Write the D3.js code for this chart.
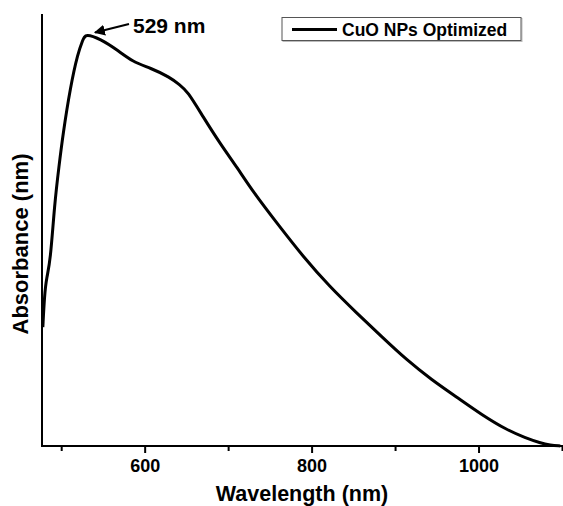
<!DOCTYPE html>
<html>
<head>
<meta charset="utf-8">
<script src="https://cdn.jsdelivr.net/npm/d3@7"></script>
<style>
  body { margin: 0; background: #fff; }
  svg { display: block; font-family: "Liberation Sans", Arial, sans-serif; }
</style>
</head>
<body>
<svg id="chart" width="563" height="506"></svg>
<script>
// UV-vis spectrum (absorbance in arbitrary units)
const wavelength = [478, 480, 482.5, 487, 492, 497.5, 502, 511, 520, 526, 529, 547, 567, 586, 607, 630, 642, 651, 670, 690, 711, 730, 760, 790, 822, 854, 884, 914, 944, 974, 1004, 1034, 1056, 1074, 1086, 1098];
const absorbance = [0.275, 0.35, 0.39, 0.426, 0.56, 0.65, 0.72, 0.831, 0.91, 0.94, 0.955, 0.942, 0.917, 0.889, 0.875, 0.854, 0.836, 0.822, 0.762, 0.701, 0.644, 0.588, 0.512, 0.438, 0.368, 0.308, 0.253, 0.199, 0.153, 0.113, 0.072, 0.037, 0.019, 0.007, 0.002, 0];
const majorTicks = [600, 800, 1000];
const minorTicks = [500, 700, 900, 1100];
const peakLabel = "529 nm";
const seriesName = "CuO NPs Optimized";

const svg = d3.select('#chart');
const margin = { left: 42, top: 14, right: 1, bottom: 60 };
const width = 563, height = 506;

const x = d3.scaleLinear().domain([477, 1100]).range([margin.left, width - margin.right]);
const y = d3.scaleLinear().domain([0, 1]).range([height - margin.bottom, margin.top]);

const data = wavelength.map((w, i) => ({ w, a: absorbance[i] }));

// curve (basis smooths out reading noise)
const line = d3.line()
  .x(d => x(d.w))
  .y(d => y(d.a))
  .curve(d3.curveBasis);

svg.append('path')
  .datum(data)
  .attr('d', line)
  .attr('fill', 'none')
  .attr('stroke', '#000')
  .attr('stroke-width', 3)
  .attr('stroke-linejoin', 'round');

// axes
const xAxis = svg.append('g')
  .attr('transform', `translate(0,${y(0)})`)
  .call(d3.axisBottom(x).tickValues(majorTicks).tickSize(7).tickPadding(6).tickFormat(d3.format('d')));
xAxis.select('.domain').attr('stroke-width', 2).attr('d', `M${margin.left},0H${width}`);
xAxis.selectAll('.tick line').attr('stroke-width', 2);
xAxis.selectAll('.tick text')
  .attr('font-size', 18).attr('font-weight', 'bold').attr('fill', '#000')
  .attr('font-family', '"Liberation Sans", Arial, sans-serif');

const minor = svg.append('g')
  .attr('transform', `translate(0,${y(0)})`)
  .call(d3.axisBottom(x).tickValues(minorTicks).tickSize(5).tickFormat(''));
minor.select('.domain').remove();
minor.selectAll('.tick line').attr('stroke-width', 2);

svg.append('line')
  .attr('x1', margin.left).attr('x2', margin.left)
  .attr('y1', margin.top).attr('y2', y(0) + 1)
  .attr('stroke', '#000').attr('stroke-width', 2);

// axis titles
svg.append('text')
  .attr('x', 302).attr('y', 501)
  .attr('text-anchor', 'middle')
  .attr('font-size', 21.5).attr('font-weight', 'bold')
  .text('Wavelength (nm)');

svg.append('text')
  .attr('transform', 'translate(28,244) rotate(-90)')
  .attr('text-anchor', 'middle')
  .attr('font-size', 22).attr('font-weight', 'bold')
  .text('Absorbance (nm)');

// peak annotation
svg.append('defs').append('marker')
  .attr('id', 'arrow')
  .attr('viewBox', '0 0 10 10')
  .attr('refX', 9).attr('refY', 5)
  .attr('markerWidth', 5).attr('markerHeight', 5)
  .attr('orient', 'auto')
  .append('path').attr('d', 'M0,0L10,5L0,10z').attr('fill', '#000');

svg.append('line')
  .attr('x1', 129).attr('y1', 24)
  .attr('x2', 95).attr('y2', 32.5)
  .attr('stroke', '#000').attr('stroke-width', 2.2)
  .attr('marker-end', 'url(#arrow)');

svg.append('text')
  .attr('x', 133).attr('y', 33)
  .attr('font-size', 21).attr('font-weight', 'bold')
  .text(peakLabel);

// legend
const legend = svg.append('g');
legend.append('rect')
  .attr('x', 283).attr('y', 18.5)
  .attr('width', 239).attr('height', 23)
  .attr('fill', 'none').attr('stroke', '#bbb').attr('stroke-width', 1);
legend.append('rect')
  .attr('x', 282).attr('y', 17.5)
  .attr('width', 239).attr('height', 23)
  .attr('fill', '#fff').attr('stroke', '#555').attr('stroke-width', 1);
legend.append('line')
  .attr('x1', 292).attr('x2', 337)
  .attr('y1', 29.5).attr('y2', 29.5)
  .attr('stroke', '#000').attr('stroke-width', 3);
legend.append('text')
  .attr('x', 342).attr('y', 36)
  .attr('font-size', 17.5).attr('font-weight', 'bold')
  .text(seriesName);
</script>
</body>
</html>
